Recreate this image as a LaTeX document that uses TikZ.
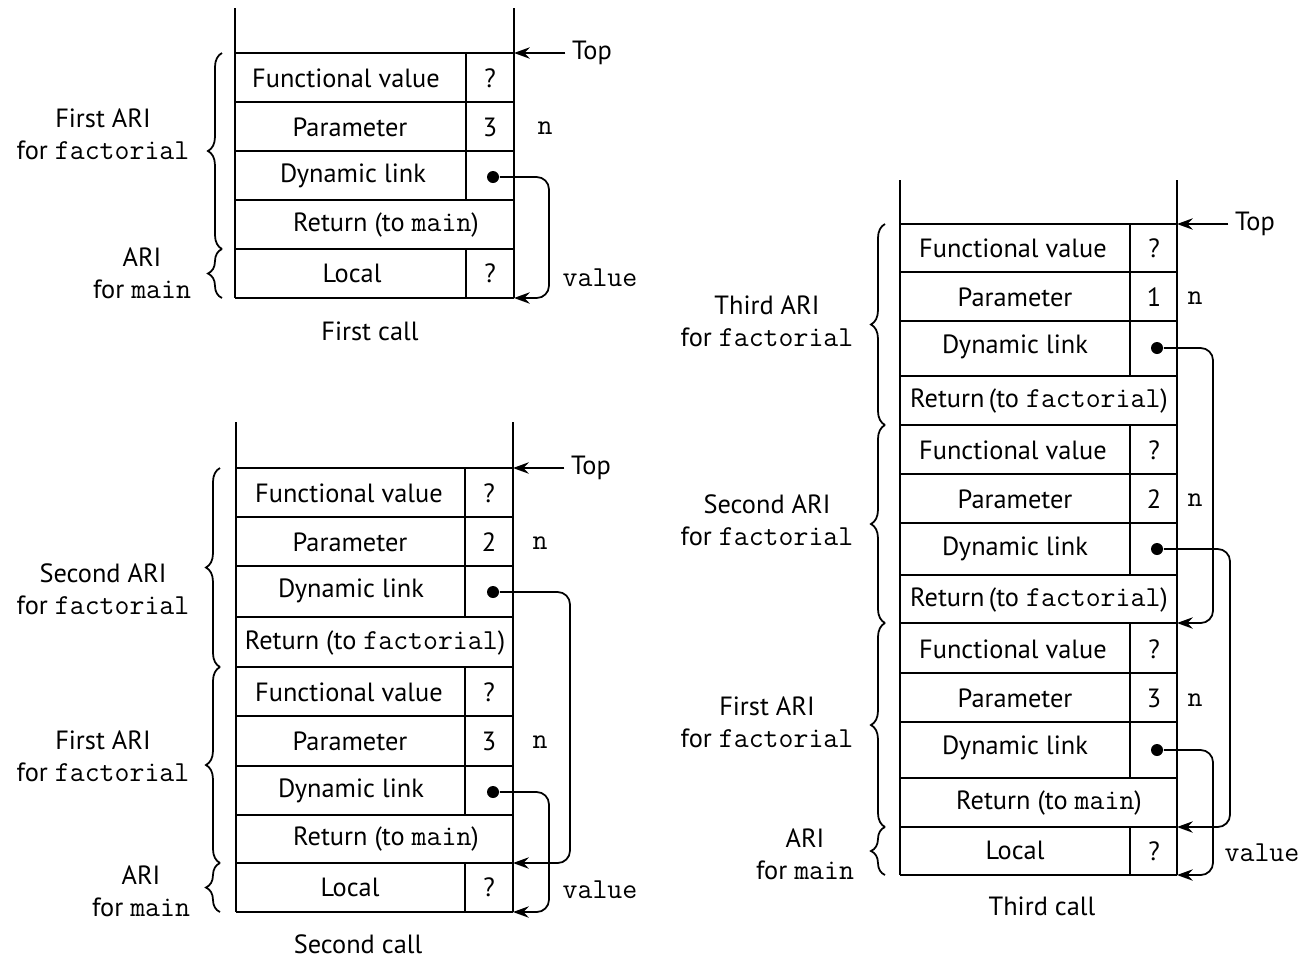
\documentclass[tikz,border=0pt]{standalone}
\usepackage{fontspec}
\setmainfont{PT Sans}
\setmonofont[Scale=1.1]{Latin Modern Mono}
\usepackage{tikz}
\usetikzlibrary{positioning}
\usetikzlibrary{arrows.meta}
\usetikzlibrary{decorations.pathreplacing}

\begin{document}
\begin{tikzpicture}[x=0.02cm, y=-0.02cm, line width=1pt,
    >={Stealth[length=9pt,width=6.5pt,inset=3pt]},
    every node/.style={font=\fontsize{15pt}{18pt}\selectfont},
    dot/.style={circle, fill, inner sep=0pt, minimum size=0.24cm},
    link/.style={->, rounded corners=7pt},
    brace/.style={decorate, decoration={brace, amplitude=8pt}},
    side/.style={align=center}]
    \useasboundingbox (0,0) rectangle (1304,958);

    % ---------- first call ----------
    % draw stack
    \draw (235,8) -- (235,298);
    \draw (514,8) -- (514,298);
    \foreach \y in {53,102,151,200,249,298}
      \draw (235,\y) -- (514,\y);
    \foreach \a/\b in {53/200,249/298}
      \draw (466,\a) -- (466,\b);

    % draw nodes
    \node (fva) at (346,78) {Functional value};
    \node (fvqa) at (490,78) {?};
    \node (para) at (350,127) {Parameter};
    \node (parva) at (490,127) {3};
    \node (dla) at (353,176) {Dynamic link};
    \node[dot] (dota) at (493,177) {};
    \node (reta) at (386,225) {Return (to \texttt{main})};
    \node (loca) at (352,273) {Local};
    \node (locqa) at (490,273) {?};
    \node (na) at (545,128) {\texttt{n}};
    \node (vala) at (600,278) {\texttt{value}};
    \node (topa) at (592,53) {Top};
    \node (capa) at (370,331) {First call};
    \node[side] (fariA) at (103,134) {First ARI\\for \texttt{factorial}};
    \node[side] (mariA) at (142,273) {ARI\\for \texttt{main}};

    % draw links
    \coordinate (ta) at (514,53);
    \coordinate (ea) at (514,298);
    \draw[->] (topa) -- (ta);
    \draw[link] (dota) -- ++(56,0) |- (ea);
    \draw[brace] (222,249) -- (222,53);
    \draw[brace] (222,298) -- (222,249);

    % ---------- second call ----------
    % draw stack
    \draw (236,422) -- (236,912);
    \draw (513,422) -- (513,912);
    \foreach \y in {468,517,566,617,667,716,766,815,863,912}
      \draw (236,\y) -- (513,\y);
    \foreach \a/\b in {468/617,667/815,863/912}
      \draw (465,\a) -- (465,\b);

    % draw nodes
    \node (fvb) at (349,493) {Functional value};
    \node (fvqb) at (489,493) {?};
    \node (parb) at (350,542) {Parameter};
    \node (parvb) at (489,542) {2};
    \node (dlb) at (351,591) {Dynamic link};
    \node[dot] (dotb) at (493,592) {};
    \node (retb) at (375,643) {Return (to \texttt{factorial})};
    \node (fvc) at (349,692) {Functional value};
    \node (fvqc) at (489,692) {?};
    \node (parc) at (350,741) {Parameter};
    \node (parvc) at (489,741) {3};
    \node (dlc) at (351,791) {Dynamic link};
    \node[dot] (dotc) at (493,792) {};
    \node (retc) at (386,839) {Return (to \texttt{main})};
    \node (locb) at (350,887) {Local};
    \node (locqb) at (489,887) {?};
    \node (nb) at (540,543) {\texttt{n}};
    \node (nc) at (540,742) {\texttt{n}};
    \node (valb) at (600,890) {\texttt{value}};
    \node (topb) at (591,468) {Top};
    \node (capb) at (358,944) {Second call};
    \node[side] (sariB) at (103,589) {Second ARI\\for \texttt{factorial}};
    \node[side] (fariB) at (103,756) {First ARI\\for \texttt{factorial}};
    \node[side] (mariB) at (141,891) {ARI\\for \texttt{main}};

    % draw links
    \coordinate (tb) at (513,468);
    \coordinate (eb) at (513,863);
    \coordinate (ec) at (513,912);
    \draw[->] (topb) -- (tb);
    \draw[link] (dotb) -- ++(77,0) |- (eb);
    \draw[link] (dotc) -- ++(56,0) |- (ec);
    \draw[brace] (220,667) -- (220,468);
    \draw[brace] (220,863) -- (220,667);
    \draw[brace] (220,912) -- (220,863);

    % ---------- third call ----------
    % draw stack
    \draw (900,180) -- (900,875);
    \draw (1177,180) -- (1177,875);
    \foreach \y in {224,272,321,376,425,474,523,575,623,673,722,778,827,875}
      \draw (900,\y) -- (1177,\y);
    \foreach \a/\b in {224/376,425/575,623/778,827/875}
      \draw (1130,\a) -- (1130,\b);

    % draw nodes
    \node (fvd) at (1013,248) {Functional value};
    \node (fvqd) at (1154,248) {?};
    \node (pard) at (1015,297) {Parameter};
    \node (parvd) at (1154,297) {1};
    \node (dld) at (1015,347) {Dynamic link};
    \node[dot] (dotd) at (1157,348) {};
    \node (retd) at (1039,401) {Return\,(to \texttt{factorial})};
    \node (fve) at (1013,450) {Functional value};
    \node (fvqe) at (1154,450) {?};
    \node (pare) at (1015,499) {Parameter};
    \node (parve) at (1154,499) {2};
    \node (dle) at (1015,549) {Dynamic link};
    \node[dot] (dote) at (1157,549) {};
    \node (rete) at (1039,600) {Return\,(to \texttt{factorial})};
    \node (fvf) at (1013,649) {Functional value};
    \node (fvqf) at (1154,649) {?};
    \node (parf) at (1015,698) {Parameter};
    \node (parvf) at (1154,698) {3};
    \node (dlf) at (1015,748) {Dynamic link};
    \node[dot] (dotf) at (1157,750) {};
    \node (retf) at (1049,803) {Return (to \texttt{main})};
    \node (locc) at (1015,850) {Local};
    \node (locqc) at (1154,851) {?};
    \node (nd) at (1195,298) {\texttt{n}};
    \node (ne) at (1195,500) {\texttt{n}};
    \node (nf) at (1195,700) {\texttt{n}};
    \node (valc) at (1262,853) {\texttt{value}};
    \node (topc) at (1255,224) {Top};
    \node (capc) at (1042,906) {Third call};
    \node[side] (tariC) at (767,321) {Third ARI\\for \texttt{factorial}};
    \node[side] (sariC) at (767,520) {Second ARI\\for \texttt{factorial}};
    \node[side] (fariC) at (767,722) {First ARI\\for \texttt{factorial}};
    \node[side] (mariC) at (805,854) {ARI\\for \texttt{main}};

    % draw links
    \coordinate (tc) at (1177,224);
    \coordinate (ed) at (1177,623);
    \coordinate (ee) at (1177,827);
    \coordinate (ef) at (1177,875);
    \draw[->] (topc) -- (tc);
    \draw[link] (dotd) -- ++(56,0) |- (ed);
    \draw[link] (dote) -- ++(73,0) |- (ee);
    \draw[link] (dotf) -- ++(56,0) |- (ef);
    \draw[brace] (885,425) -- (885,224);
    \draw[brace] (885,623) -- (885,425);
    \draw[brace] (885,827) -- (885,623);
    \draw[brace] (885,875) -- (885,827);
  \end{tikzpicture}
\end{document}
